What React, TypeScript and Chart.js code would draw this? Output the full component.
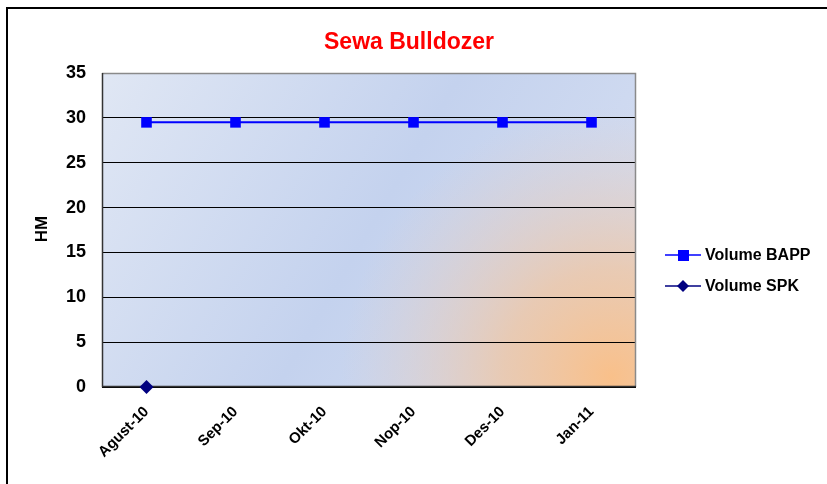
import React, { useEffect, useRef } from "react";
import { Chart, registerables } from "chart.js";
Chart.register(...registerables);

const categories = ["Agust-10", "Sep-10", "Okt-10", "Nop-10", "Des-10", "Jan-11"];
const volumeBAPP = [29.5, 29.5, 29.5, 29.5, 29.5, 29.5];
const volumeSPK: (number | null)[] = [0, null, null, null, null, null];
const seriesNames = ["Volume BAPP", "Volume SPK"];
const chartTitle = "Sewa Bulldozer";
const yTitle = "HM";

const FONT = "'Liberation Sans', Arial, sans-serif";

const decor = {
  id: "decor",
  beforeDraw(chart: any) {
    const { ctx, chartArea: a } = chart;
    ctx.save();
    ctx.fillStyle = "#ffffff";
    ctx.fillRect(0, 0, chart.width, chart.height);
    const lg = ctx.createLinearGradient(a.left, a.top, a.right, a.bottom);
    lg.addColorStop(0, "#e0e7f4");
    lg.addColorStop(0.5, "#c4d2ee");
    lg.addColorStop(1, "#d8e0f2");
    ctx.fillStyle = lg;
    ctx.fillRect(a.left, a.top, a.right - a.left, a.bottom - a.top);
    const cx = a.right - 25, cy = a.bottom - 10;
    const rg = ctx.createRadialGradient(cx, cy, 0, cx, cy, 270);
    rg.addColorStop(0, "rgba(249,192,138,1)");
    rg.addColorStop(0.4, "rgba(238,198,165,0.8)");
    rg.addColorStop(1, "rgba(225,205,200,0)");
    ctx.fillStyle = rg;
    ctx.fillRect(a.left, a.top, a.right - a.left, a.bottom - a.top);
    ctx.fillStyle = "#000";
    ctx.fillRect(6, 7, chart.width, 2);
    ctx.fillRect(6, 7, 2, chart.height);
    ctx.restore();
  },
  beforeDatasetsDraw(chart: any) {
    const { ctx, chartArea: a } = chart;
    ctx.save();
    ctx.strokeStyle = "#8a8a8a";
    ctx.lineWidth = 1.5;
    ctx.beginPath();
    ctx.moveTo(a.left, a.top + 0.5);
    ctx.lineTo(a.right - 0.5, a.top + 0.5);
    ctx.lineTo(a.right - 0.5, a.bottom);
    ctx.stroke();
    ctx.strokeStyle = "#333";
    ctx.lineWidth = 1.5;
    ctx.beginPath();
    ctx.moveTo(a.left + 0.5, a.top);
    ctx.lineTo(a.left + 0.5, a.bottom - 0.5);
    ctx.lineTo(a.right, a.bottom - 0.5);
    ctx.stroke();
    ctx.restore();
  },
  afterDraw(chart: any) {
    const { ctx } = chart;
    ctx.save();
    ctx.fillStyle = "#ff0000";
    ctx.font = `bold 23px ${FONT}`;
    ctx.textAlign = "center";
    ctx.textBaseline = "middle";
    ctx.fillText(chartTitle, 409, 43);
    ctx.save();
    ctx.translate(42, 229);
    ctx.rotate(-Math.PI / 2);
    ctx.fillStyle = "#000";
    ctx.font = `bold 17px ${FONT}`;
    ctx.fillText(yTitle, 0, 0);
    ctx.restore();
    const rows = [
      { y: 255, color: "#0000ff", shape: "square" },
      { y: 286, color: "#000080", shape: "diamond" },
    ];
    rows.forEach((r, i) => {
      ctx.strokeStyle = r.color;
      ctx.lineWidth = 1.5;
      ctx.beginPath();
      ctx.moveTo(665, r.y);
      ctx.lineTo(701, r.y);
      ctx.stroke();
      ctx.fillStyle = r.color;
      if (r.shape === "square") {
        ctx.fillRect(678, r.y - 5, 11, 11);
      } else {
        ctx.beginPath();
        ctx.moveTo(683, r.y - 6);
        ctx.lineTo(689, r.y);
        ctx.lineTo(683, r.y + 6);
        ctx.lineTo(677, r.y);
        ctx.closePath();
        ctx.fill();
      }
      ctx.fillStyle = "#000";
      ctx.font = `bold 16px ${FONT}`;
      ctx.textAlign = "left";
      ctx.textBaseline = "middle";
      ctx.fillText(seriesNames[i], 705, r.y + 1);
    });
    ctx.restore();
  },
};

export default function App() {
  const ref = useRef<HTMLCanvasElement>(null);
  useEffect(() => {
    document.body.style.margin = "0";
    const chart = new Chart(ref.current!, {
      type: "line",
      data: {
        labels: categories,
        datasets: [
          {
            label: seriesNames[0],
            data: volumeBAPP,
            borderColor: "#0000ff",
            backgroundColor: "#0000ff",
            borderWidth: 2,
            pointStyle: "rect",
            pointRadius: 7.5,
            pointBorderWidth: 0,
            fill: false,
            clip: false,
          },
          {
            label: seriesNames[1],
            data: volumeSPK,
            borderColor: "#000080",
            backgroundColor: "#000080",
            borderWidth: 2,
            pointStyle: "rectRot",
            pointRadius: 7,
            pointBorderWidth: 0,
            fill: false,
            clip: false,
          },
        ],
      },
      options: {
        animation: false,
        responsive: false,
        devicePixelRatio: 1,
        layout: { padding: { left: 0, top: 73, right: 191, bottom: 0 } },
        plugins: { legend: { display: false }, title: { display: false }, tooltip: { enabled: false } },
        scales: {
          x: {
            offset: true,
            grid: { display: false, drawTicks: false },
            border: { display: false },
            ticks: {
              minRotation: 45,
              maxRotation: 45,
              padding: 16,
              color: "#000",
              font: { family: FONT, weight: "bold", size: 15 },
            },
            afterFit: (s: any) => { s.height = 97; },
          },
          y: {
            min: 0,
            max: 35,
            ticks: {
              stepSize: 5,
              padding: 16,
              color: "#000",
              font: { family: FONT, weight: "bold", size: 18 },
            },
            grid: { color: "#000", lineWidth: 1, drawTicks: false },
            border: { display: false },
            afterFit: (s: any) => { s.width = 102; },
          },
        },
      },
      plugins: [decor],
    } as any);
    return () => chart.destroy();
  }, []);
  return <canvas ref={ref} width={827} height={484} style={{ display: "block" }} />;
}
